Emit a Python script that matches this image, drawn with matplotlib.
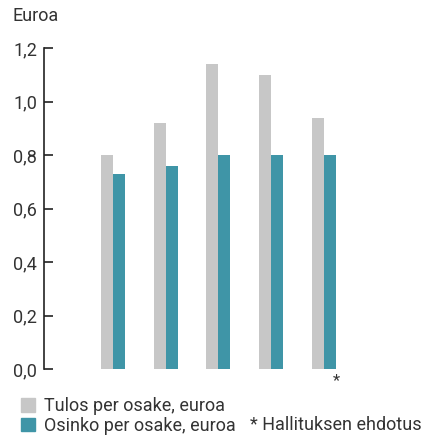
import numpy as np
import matplotlib
matplotlib.use('Agg')
import matplotlib.pyplot as plt
from matplotlib.patches import Patch
from matplotlib.ticker import FuncFormatter

# data
tulos = [0.80, 0.92, 1.14, 1.10, 0.94]
osinko = [0.73, 0.76, 0.80, 0.80, 0.80]
series_labels = ['Tulos per osake, euroa', 'Osinko per osake, euroa']
yticks = [0.0, 0.2, 0.4, 0.6, 0.8, 1.0, 1.2]

grey = '#c7c7c7'
teal = '#3f95a7'
txt = '#333333'

plt.rcParams['font.family'] = ['Roboto', 'DejaVu Sans']

W, H = 428, 437
fig = plt.figure(figsize=(W / 100, H / 100), dpi=100)
ax = fig.add_axes([44 / W, 68 / H, 348 / W, 321 / H])

x = np.arange(len(tulos))
w = 0.2275
ax.bar(x - w / 2, tulos, width=w, color=grey)
ax.bar(x + w / 2, osinko, width=w, color=teal)

unit = 348 / 52.75
ax.set_xlim(-1.308, -1.308 + unit)
ax.set_ylim(0, 1.2)
ax.set_yticks(yticks)
ax.yaxis.set_major_formatter(FuncFormatter(lambda v, p: f'{v:.1f}'.replace('.', ',')))
ax.set_xticks([])
for s in ['top', 'right', 'bottom']:
    ax.spines[s].set_visible(False)
ax.spines['left'].set_color('#222222')
ax.spines['left'].set_linewidth(1.2)
ax.tick_params(axis='y', direction='in', length=6.5, width=1.2, color='#222222',
               labelsize=13, labelcolor=txt, pad=5)

# asterisk under the last dividend bar
ax.annotate('*', xy=(x[-1] + w, 0), xytext=(0, -8), textcoords='offset points',
            ha='center', va='center', fontsize=12, color=txt, annotation_clip=False)

fig.text(13 / W, 1 - 7 / H, 'Euroa', ha='left', va='top', fontsize=13, color=txt)

handles = [Patch(color=grey), Patch(color=teal)]
fig.legend(handles, series_labels, loc='upper left', bbox_to_anchor=(21 / W, 1 - 397 / H),
           frameon=False, fontsize=13, labelcolor=txt, handlelength=0.8, handleheight=0.8,
           handletextpad=0.45, labelspacing=0.1, borderpad=0, borderaxespad=0)
fig.text(250 / W, 1 - 425 / H, '* Hallituksen ehdotus', ha='left', va='center',
         fontsize=13, color=txt)

fig.savefig('out.png', dpi=100)
